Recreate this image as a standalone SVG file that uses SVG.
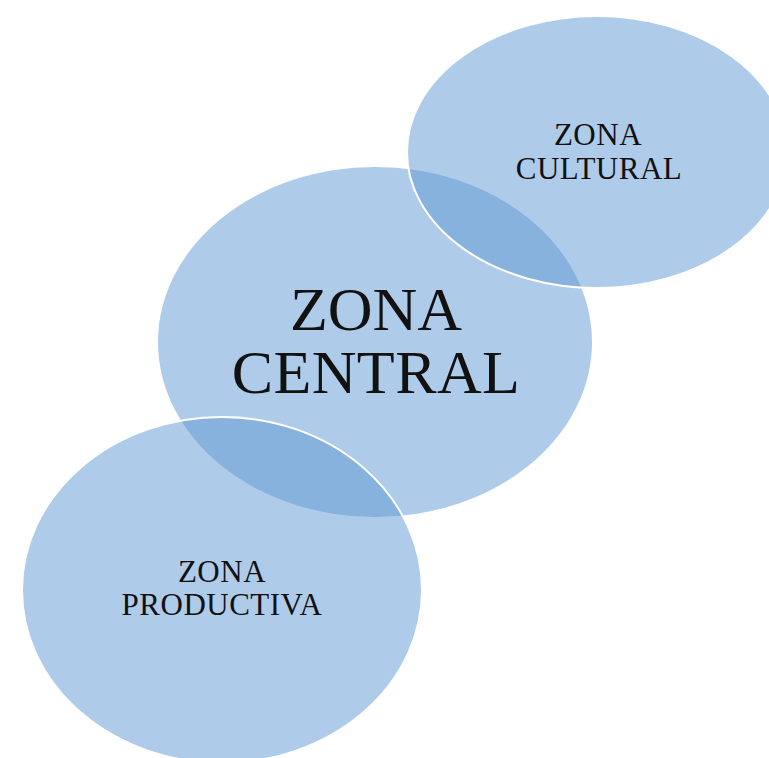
<svg xmlns="http://www.w3.org/2000/svg" width="769" height="758" viewBox="0 0 769 758">
<style>
.zone{fill:#649cd5;fill-opacity:0.52;}
.top{stroke:#ffffff;stroke-width:2;}
.lbl{font-family:"Liberation Serif","Times New Roman",serif;fill:#111111;text-anchor:middle;}
.sm{font-size:31px;letter-spacing:0.5px;}
</style>
<rect width="769" height="758" fill="#ffffff"/>
<g id="zona-central">
<ellipse class="zone" cx="375" cy="342" rx="217" ry="175"/>
<text class="lbl" x="376" y="330" font-size="62">ZONA</text>
<text class="lbl" x="376" y="393" font-size="62" letter-spacing="0.4">CENTRAL</text>
</g>
<g id="zona-cultural">
<ellipse class="zone top" cx="597" cy="152" rx="190" ry="136"/>
<text class="lbl sm" x="598" y="145">ZONA</text>
<text class="lbl sm" x="599" y="179">CULTURAL</text>
</g>
<g id="zona-productiva">
<ellipse class="zone top" cx="222" cy="590" rx="200" ry="173"/>
<text class="lbl sm" x="222" y="582">ZONA</text>
<text class="lbl sm" x="222" y="615">PRODUCTIVA</text>
</g>
<g id="connectors"></g>
</svg>
